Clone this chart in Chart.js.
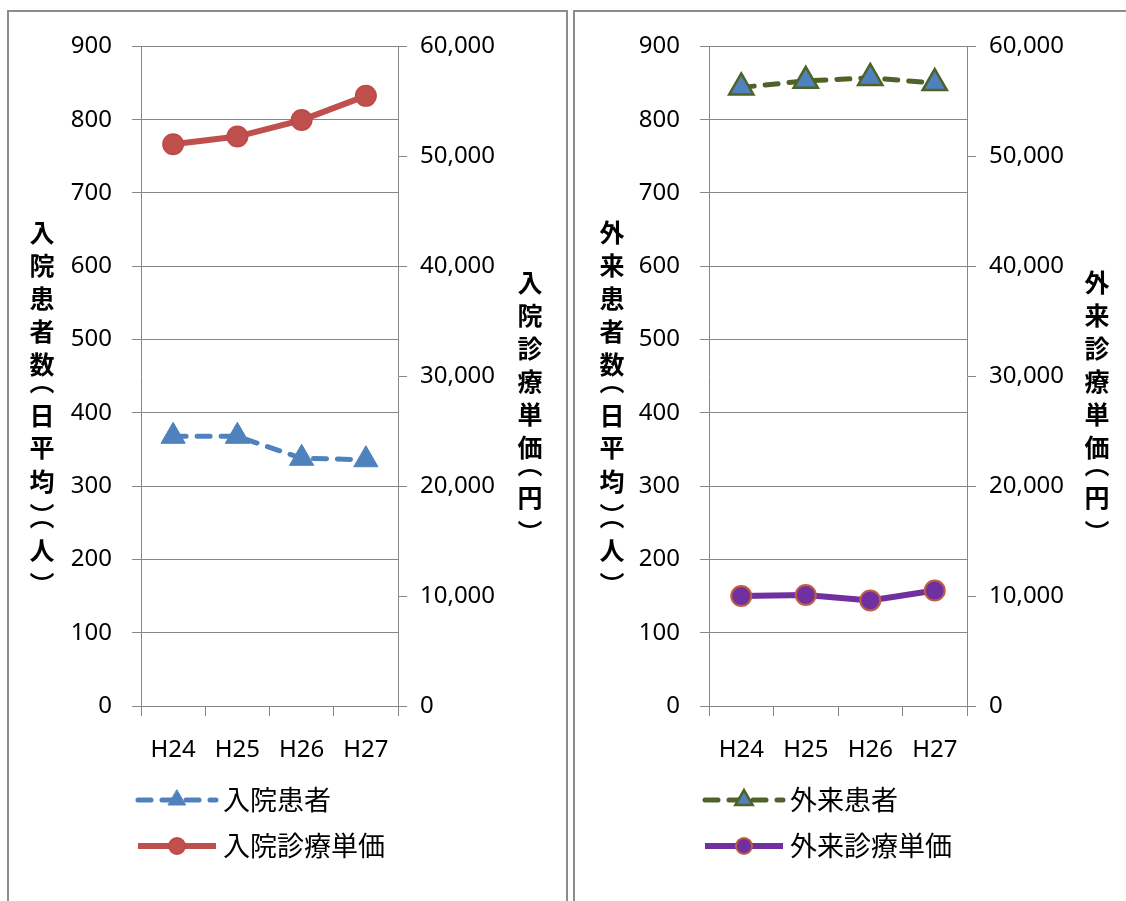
<!DOCTYPE html>
<html>
<head>
<meta charset="utf-8">
<script src="https://cdn.jsdelivr.net/npm/chart.js@4.4.1/dist/chart.umd.min.js"></script>
<style>
  html, body { margin: 0; padding: 0; background: #fff; width: 1126px; height: 901px; overflow: hidden; position: relative; }
  .panel { position: absolute; box-sizing: border-box; border: 2px solid #8c8c8c; border-bottom: none; background: #fff; }
  #panelA { left: 7px; top: 10px; width: 561px; height: 895px; }
  #panelB { left: 573px; top: 10px; width: 600px; height: 895px; border-right: none; }
  canvas { position: absolute; top: 12px; }
  #chartA { left: 9px; }
  #chartB { left: 575px; }
</style>
</head>
<body>
<div class="panel" id="panelA"></div>
<div class="panel" id="panelB"></div>
<canvas id="chartA" width="557" height="889"></canvas>
<canvas id="chartB" width="551" height="889"></canvas>
<script>
// Fiscal years (Heisei era)
const fiscalYears = ['H24', 'H25', 'H26', 'H27'];

// Inpatients: average patients per day, and revenue per patient-day (yen)
const inpatientsPerDay = [368, 368, 338, 336];
const inpatientUnitPrice = [51100, 51800, 53300, 55500];

// Outpatients: average patients per day, and revenue per visit (yen)
const outpatientsPerDay = [844, 853, 857, 850];
const outpatientUnitPrice = [10000, 10100, 9600, 10500];

// Axis ranges / tick steps
const patientAxis = { min: 0, max: 900, step: 100 };
const priceAxis = { min: 0, max: 60000, step: 10000 };

// Labels
const inpatientLabels = ['入院患者', '入院診療単価'];
const outpatientLabels = ['外来患者', '外来診療単価'];
const inpatientAxisTitles = ['入院患者数（日平均）（人）', '入院診療単価（円）'];
const outpatientAxisTitles = ['外来患者数（日平均）（人）', '外来診療単価（円）'];

const GRID = '#868686';
const TICK_FONT = { family: '"Noto Sans", sans-serif', size: 24 };
const CJK = '"Noto Sans CJK JP", sans-serif';

// Stacked (top-to-bottom) axis titles; brackets use their vertical forms
const VERTICAL_FORMS = { '（': '︵', '）': '︶' };
const verticalTitles = {
  id: 'verticalTitles',
  afterDraw(chart, args, opts) {
    const ctx = chart.ctx;
    ctx.save();
    ctx.fillStyle = '#000';
    ctx.font = `bold ${opts.size}px ${CJK}`;
    ctx.textAlign = 'center';
    ctx.textBaseline = 'alphabetic';
    for (const t of opts.items) {
      let y = t.top;
      for (const raw of Array.from(t.text)) {
        const isBracket = raw in VERTICAL_FORMS;
        const ch = isBracket ? VERTICAL_FORMS[raw] : raw;
        const slot = isBracket ? opts.bracketSlot : opts.fullSlot;
        const m = ctx.measureText(ch);
        const inkMid = (m.actualBoundingBoxDescent - m.actualBoundingBoxAscent) / 2;
        ctx.fillText(ch, t.x, y + slot / 2 - inkMid);
        y += slot;
      }
    }
    ctx.restore();
  }
};

// Legend rows: line sample with a marker in the middle, then the label
const lineLegend = {
  id: 'lineLegend',
  afterDraw(chart, args, opts) {
    const ctx = chart.ctx;
    chart.data.datasets.forEach((ds, i) => {
      const y = opts.y0 + i * opts.gap;
      ctx.save();
      ctx.strokeStyle = ds.borderColor;
      ctx.lineWidth = ds.borderWidth;
      ctx.lineCap = ds.borderCapStyle || 'butt';
      ctx.setLineDash(ds.borderDash || []);
      ctx.beginPath();
      ctx.moveTo(opts.x0, y);
      ctx.lineTo(opts.x1, y);
      ctx.stroke();
      ctx.setLineDash([]);
      ctx.fillStyle = ds.pointBackgroundColor;
      ctx.strokeStyle = ds.pointBorderColor;
      ctx.lineWidth = ds.pointBorderWidth;
      Chart.helpers.drawPoint(ctx, {
        pointStyle: ds.pointStyle,
        radius: opts.markerRadius[i],
        borderWidth: ds.pointBorderWidth,
        rotation: 0
      }, opts.markerX, y);
      ctx.fillStyle = '#000';
      ctx.font = `${opts.fontSize}px ${CJK}`;
      ctx.textAlign = 'left';
      ctx.textBaseline = 'middle';
      ctx.fillText(ds.label, opts.textX, y);
      ctx.restore();
    });
  }
};

function makeChart(canvasId, cfg) {
  return new Chart(document.getElementById(canvasId), {
    type: 'line',
    data: {
      labels: fiscalYears,
      datasets: [
        {
          label: cfg.labels[0],
          data: cfg.patients,
          yAxisID: 'y',
          borderColor: cfg.patientLine,
          borderWidth: 5,
          borderDash: [13, 11],
          borderCapStyle: 'round',
          pointStyle: 'triangle',
          pointRadius: 14,
          pointBackgroundColor: '#4F81BD',
          pointBorderColor: cfg.patientLine,
          pointBorderWidth: cfg.triangleBorder,
          tension: 0
        },
        {
          label: cfg.labels[1],
          data: cfg.prices,
          yAxisID: 'y1',
          borderColor: cfg.priceLine,
          borderWidth: 6,
          pointStyle: 'circle',
          pointRadius: 10,
          pointBackgroundColor: cfg.priceLine,
          pointBorderColor: cfg.circleBorder,
          pointBorderWidth: 2,
          tension: 0
        }
      ]
    },
    options: {
      responsive: false,
      animation: false,
      events: [],
      locale: 'en-US',
      layout: { padding: { top: 33, left: 0, right: 0, bottom: 0 } },
      plugins: {
        legend: { display: false },
        tooltip: { enabled: false },
        verticalTitles: {
          size: 25,
          fullSlot: 33,
          bracketSlot: 18,
          items: [
            { text: cfg.titles[0], x: cfg.leftTitleX, top: 204 },
            { text: cfg.titles[1], x: cfg.rightTitleX, top: 254 }
          ]
        },
        lineLegend: {
          x0: cfg.legendX0, x1: cfg.legendX0 + 78, markerX: cfg.legendX0 + 39,
          textX: cfg.legendX0 + 85, y0: 788, gap: 46, fontSize: 27,
          markerRadius: [10, 8]
        }
      },
      scales: {
        x: {
          offset: true,
          grid: { offset: true, drawOnChartArea: false, drawTicks: true, tickLength: 10, color: GRID },
          border: { display: true, color: GRID },
          ticks: { color: '#000', font: TICK_FONT, padding: 20, maxRotation: 0 },
          afterFit(s) { s.height = 195; }
        },
        y: {
          position: 'left',
          min: patientAxis.min, max: patientAxis.max,
          grid: { color: GRID, tickLength: 9 },
          border: { display: true, color: GRID },
          ticks: { stepSize: patientAxis.step, color: '#000', font: TICK_FONT, padding: 20 },
          afterFit(s) { s.width = cfg.leftWidth; }
        },
        y1: {
          position: 'right',
          min: priceAxis.min, max: priceAxis.max,
          grid: { drawOnChartArea: false, color: GRID, tickLength: 9 },
          border: { display: true, color: GRID },
          ticks: { stepSize: priceAxis.step, color: '#000', font: TICK_FONT, padding: 13 },
          afterFit(s) { s.width = cfg.rightWidth; }
        }
      }
    },
    plugins: [verticalTitles, lineLegend]
  });
}

makeChart('chartA', {
  patients: inpatientsPerDay,
  prices: inpatientUnitPrice,
  labels: inpatientLabels,
  titles: inpatientAxisTitles,
  patientLine: '#4F81BD',
  priceLine: '#C0504D',
  circleBorder: '#BE4B48',
  triangleBorder: 1,
  leftWidth: 132,
  rightWidth: 168,
  leftTitleX: 33,
  rightTitleX: 521,
  legendX0: 129
});

makeChart('chartB', {
  patients: outpatientsPerDay,
  prices: outpatientUnitPrice,
  labels: outpatientLabels,
  titles: outpatientAxisTitles,
  patientLine: '#4F6228',
  priceLine: '#7030A0',
  circleBorder: '#C0603F',
  triangleBorder: 2.5,
  leftWidth: 134,
  rightWidth: 159,
  leftTitleX: 37,
  rightTitleX: 522,
  legendX0: 130
});
</script>
</body>
</html>
